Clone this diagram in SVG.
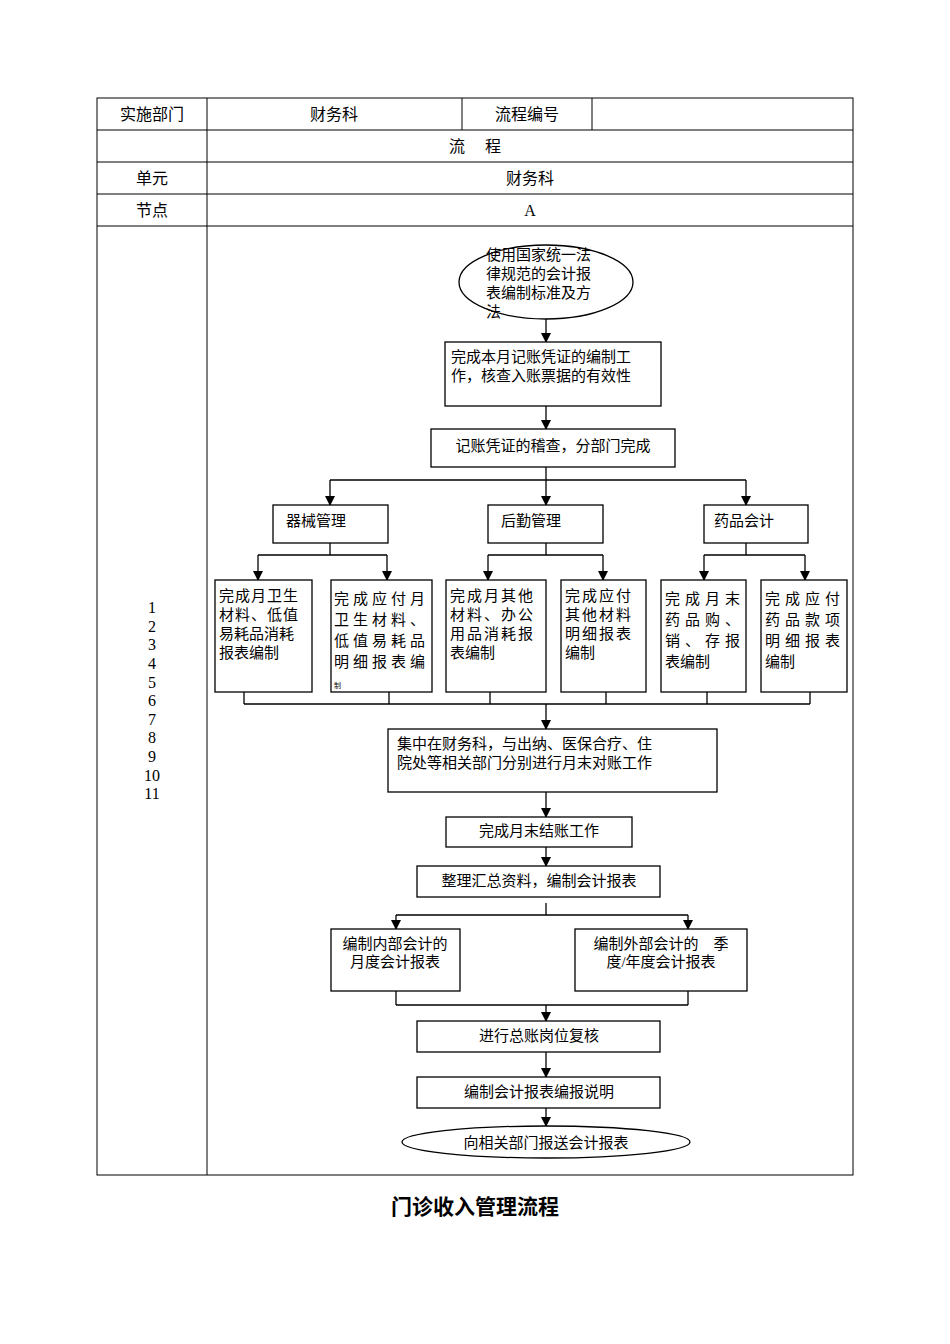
<svg xmlns="http://www.w3.org/2000/svg" width="950" height="1344" viewBox="0 0 950 1344">
<defs>
<marker id="ah" markerWidth="10" markerHeight="10" refX="9" refY="5" orient="auto" markerUnits="userSpaceOnUse"><path d="M0,0 L10,5 L0,10 z" fill="#000"/></marker>
<style>
text{font-family:"Liberation Serif","Noto Sans CJK SC",serif;font-size:16px;fill:#000}
.t{font-size:15px}
.c{text-anchor:middle}
.b{fill:#fff;stroke:#000;stroke-width:1.3}
.l{fill:none;stroke:#000;stroke-width:1.3}
.a{fill:none;stroke:#000;stroke-width:1.3;marker-end:url(#ah)}
.g{stroke:#000;stroke-width:1;fill:none}
</style>
</defs>
<rect width="950" height="1344" fill="#fff"/>
<g id="table">
<rect x="97" y="98" width="756" height="1077" class="g"/>
<path class="g" d="M97,130H853M97,162H853M97,194H853M97,226H853M207,98V1175M462,98V130M592,98V130"/>
<text x="152" y="120" class="c">实施部门</text>
<text x="334" y="120" class="c">财务科</text>
<text x="527" y="120" class="c">流程编号</text>
<text x="475" y="152" class="c">流　 程</text>
<text x="152" y="184" class="c">单元</text>
<text x="530" y="184" class="c">财务科</text>
<text x="152" y="216" class="c">节点</text>
<text x="530" y="216" class="c">A</text>
<g class="c">
<text x="152" y="613">1</text><text x="152" y="632">2</text><text x="152" y="650">3</text><text x="152" y="669">4</text><text x="152" y="688">5</text><text x="152" y="706">6</text><text x="152" y="725">7</text><text x="152" y="743">8</text><text x="152" y="762">9</text><text x="152" y="781">10</text><text x="152" y="799">11</text>
</g>
</g>
<g id="connectors">
<path class="a" d="M546,319V342"/>
<path class="a" d="M546,406V429"/>
<path class="l" d="M546,467V480M330,480H746"/>
<path class="a" d="M330,480V505"/><path class="a" d="M546,480V505"/><path class="a" d="M746,480V505"/>
<path class="l" d="M330,543V555M258,555H387M546,543V555M488,555H603M746,543V555M704,555H805"/>
<path class="a" d="M258,555V580"/><path class="a" d="M387,555V580"/><path class="a" d="M488,555V580"/><path class="a" d="M603,555V580"/><path class="a" d="M704,555V580"/><path class="a" d="M805,555V580"/>
<path class="l" d="M244,692V704M389,692V704M490,692V704M606,692V704M707,692V704M810,692V704M244,704H810"/>
<path class="a" d="M546,704V729"/>
<path class="a" d="M546,792V817"/>
<path class="a" d="M546,847V866"/>
<path class="l" d="M546,903V915M396,915H688"/>
<path class="a" d="M396,915V929"/><path class="a" d="M688,915V929"/>
<path class="l" d="M396,991V1005M688,991V1005M396,1005H688"/>
<path class="a" d="M546,1005V1021"/>
<path class="a" d="M546,1052V1077"/>
<path class="a" d="M546,1108V1126"/>
</g>
<g id="n1"><ellipse cx="546" cy="282" rx="87" ry="37" class="b"/><text class="t" x="486" y="260">使用国家统一法</text><text class="t" x="486" y="279">律规范的会计报</text><text class="t" x="486" y="298">表编制标准及方</text><text class="t" x="486" y="317">法</text></g>
<g id="n2"><rect x="445" y="342" width="216" height="64" class="b"/><text class="t" x="451" y="362">完成本月记账凭证的编制工</text><text class="t" x="451" y="381">作，核查入账票据的有效性</text></g>
<g id="n3"><rect x="431" y="429" width="244" height="38" class="b"/><text class="t" x="553" y="451" text-anchor="middle">记账凭证的稽查，分部门完成</text></g>
<g id="n4"><rect x="273" y="505" width="115" height="38" class="b"/><text class="t" x="286" y="526">器械管理</text></g>
<g id="n5"><rect x="488" y="505" width="115" height="38" class="b"/><text class="t" x="501" y="526">后勤管理</text></g>
<g id="n6"><rect x="704" y="505" width="104" height="38" class="b"/><text class="t" x="714" y="526">药品会计</text></g>
<g id="n7"><rect x="215" y="580" width="97" height="112" class="b"/><text class="t" x="219" y="601" letter-spacing="1">完成月卫生</text><text class="t" x="219" y="620" letter-spacing="1">材料、低值</text><text class="t" x="219" y="639">易耗品消耗</text><text class="t" x="219" y="658">报表编制</text></g>
<g id="n8"><rect x="331" y="580" width="101" height="112" class="b"/><text class="t" x="334" y="604" letter-spacing="4">完成应付月</text><text class="t" x="334" y="625" letter-spacing="4">卫生材料、</text><text class="t" x="334" y="646" letter-spacing="4">低值易耗品</text><text class="t" x="334" y="667" letter-spacing="4">明细报表编</text><text x="334" y="688" style="font-size:7px">制</text></g>
<g id="n9"><rect x="446" y="580" width="100" height="112" class="b"/><text class="t" x="450" y="601" letter-spacing="2">完成月其他</text><text class="t" x="450" y="620" letter-spacing="2">材料、办公</text><text class="t" x="450" y="639" letter-spacing="2">用品消耗报</text><text class="t" x="450" y="658">表编制</text></g>
<g id="n10"><rect x="561" y="580" width="85" height="112" class="b"/><text class="t" x="565" y="601" letter-spacing="2">完成应付</text><text class="t" x="565" y="620" letter-spacing="2">其他材料</text><text class="t" x="565" y="639" letter-spacing="2">明细报表</text><text class="t" x="565" y="658">编制</text></g>
<g id="n11"><rect x="661" y="580" width="85" height="112" class="b"/><text class="t" x="665" y="604" letter-spacing="5">完成月末</text><text class="t" x="665" y="625" letter-spacing="5">药品购、</text><text class="t" x="665" y="646" letter-spacing="5">销、存报</text><text class="t" x="665" y="667">表编制</text></g>
<g id="n12"><rect x="761" y="580" width="86" height="112" class="b"/><text class="t" x="765" y="604" letter-spacing="5">完成应付</text><text class="t" x="765" y="625" letter-spacing="5">药品款项</text><text class="t" x="765" y="646" letter-spacing="5">明细报表</text><text class="t" x="765" y="667">编制</text></g>
<g id="n13"><rect x="388" y="729" width="329" height="63" class="b"/><text class="t" x="397" y="749">集中在财务科，与出纳、医保合疗、住</text><text class="t" x="397" y="768">院处等相关部门分别进行月末对账工作</text></g>
<g id="n14"><rect x="446" y="817" width="186" height="30" class="b"/><text class="t" x="539" y="836" text-anchor="middle">完成月末结账工作</text></g>
<g id="n15"><rect x="417" y="866" width="243" height="31" class="b"/><text class="t" x="539" y="886" text-anchor="middle">整理汇总资料，编制会计报表</text></g>
<g id="n16"><rect x="331" y="929" width="129" height="62" class="b"/><text class="t" x="395" y="949" text-anchor="middle">编制内部会计的</text><text class="t" x="395" y="967" text-anchor="middle">月度会计报表</text></g>
<g id="n17"><rect x="575" y="929" width="172" height="62" class="b"/><text class="t" x="661" y="949" text-anchor="middle" xml:space="preserve">编制外部会计的    季</text><text class="t" x="661" y="967" text-anchor="middle">度/年度会计报表</text></g>
<g id="n18"><rect x="417" y="1021" width="243" height="31" class="b"/><text class="t" x="539" y="1041" text-anchor="middle">进行总账岗位复核</text></g>
<g id="n19"><rect x="417" y="1077" width="243" height="31" class="b"/><text class="t" x="539" y="1097" text-anchor="middle">编制会计报表编报说明</text></g>
<g id="n20"><ellipse cx="546" cy="1142" rx="144" ry="16" class="b"/><text class="t" x="546" y="1148" text-anchor="middle">向相关部门报送会计报表</text></g>
<text x="475" y="1214" text-anchor="middle" style="font-size:21px;font-weight:bold">门诊收入管理流程</text>
</svg>
